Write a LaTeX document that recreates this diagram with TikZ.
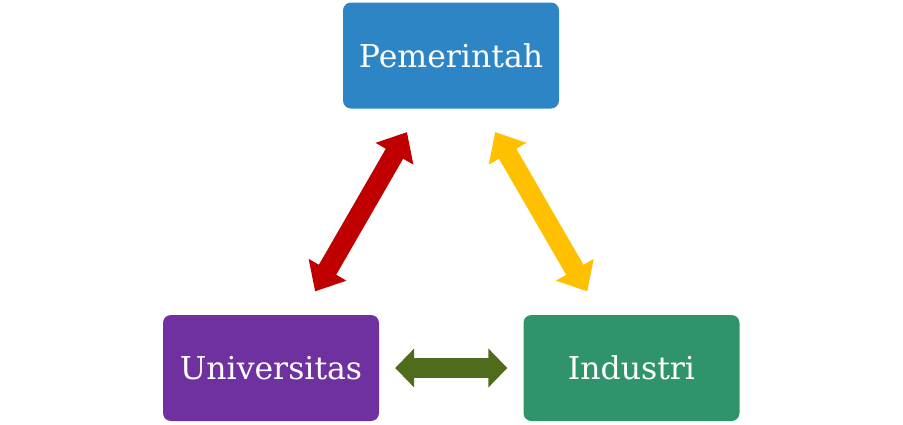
\documentclass[tikz,border=0pt]{standalone}
\usepackage{fontspec}
\setmainfont{DejaVu Serif}
\usetikzlibrary{arrows.meta,positioning}
\definecolor{pemblue}{HTML}{2E85C5}
\definecolor{unipurple}{HTML}{7031A0}
\definecolor{indgreen}{HTML}{2F946B}
\definecolor{arrred}{HTML}{C00000}
\definecolor{arryellow}{HTML}{FFC000}
\definecolor{arrgreen}{HTML}{4E6C1B}
\begin{document}
\begin{tikzpicture}[x=1pt,y=-1pt,
    actor/.style={rounded corners=8pt,minimum width=216pt,minimum height=106pt,
                  text=white,font=\fontsize{31.5}{36}\selectfont,inner sep=0pt},
    link/.style={line width=20pt,shorten <=27pt,shorten >=27pt,
                 {Triangle[length=25pt,width=42pt]}-{Triangle[length=25pt,width=42pt]}}]
 \useasboundingbox (0,0) rectangle (903,424);
 \node[actor,fill=pemblue] (pem) at (451,55.5) {Pemerintah};
 \node[actor,fill=unipurple] (uni) at (271,368) {Universitas};
 \node[actor,fill=indgreen] (ind) at (631.5,368) {Industri};
 \draw[link,arrred] (uni) -- (pem);
 \draw[link,arryellow] (ind) -- (pem);
 \draw[link,arrgreen,shorten <=16pt,shorten >=16pt,
       {Triangle[length=19pt,width=38pt]}-{Triangle[length=19pt,width=38pt]}] (uni) -- (ind);
\end{tikzpicture}
\end{document}
